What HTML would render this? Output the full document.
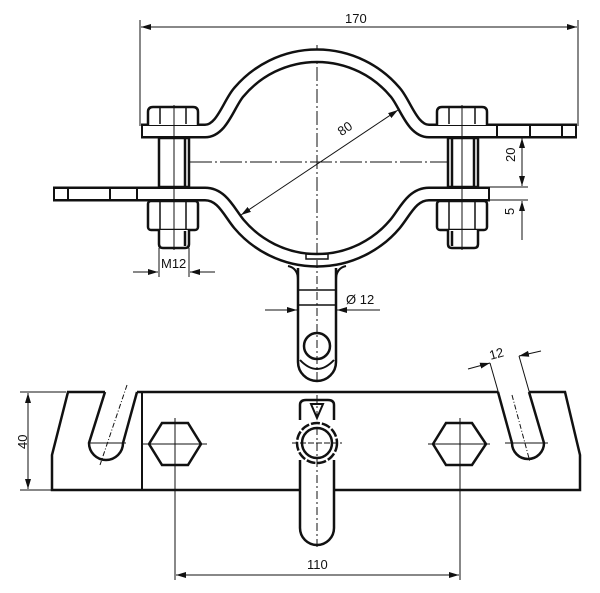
<!DOCTYPE html>
<html><head><meta charset="utf-8"><style>
html,body{margin:0;padding:0;background:#fff}
svg{display:block}
text{font-family:"Liberation Sans",Arial,sans-serif;font-size:13px;fill:#111}
</style></head><body>
<svg width="600" height="593" viewBox="0 0 600 593" xmlns="http://www.w3.org/2000/svg">
<defs>
<marker id="a" viewBox="0 0 10 6" refX="10" refY="3" markerWidth="10" markerHeight="6" orient="auto-start-reverse" markerUnits="userSpaceOnUse"><path d="M0,0 L10,3 L0,6 z" fill="#111"/></marker>
</defs>
<g fill="none" stroke="#111">
<line x1="140" y1="20" x2="140" y2="126" stroke-width="1"/>
<line x1="578" y1="20" x2="578" y2="126" stroke-width="1"/>
<line x1="141" y1="27" x2="577" y2="27" stroke-width="1" marker-start="url(#a)" marker-end="url(#a)"/>

<line x1="317" y1="45" x2="317" y2="380" stroke-width="1" stroke-dasharray="14,3,2,3"/>
<line x1="190" y1="162" x2="450" y2="162" stroke-width="1" stroke-dasharray="22,3,2,3"/>

<path d="M141,131 L205,131 C222,131 229,103 239,92 A102,102 0 0 1 395,92 C405,103 412,131 429,131 L577,131" stroke-width="15"/>
<path d="M143,131 L205,131 C222,131 229,103 239,92 A102,102 0 0 1 395,92 C405,103 412,131 429,131 L575,131" stroke="#fff" stroke-width="10"/>
<path d="M53,194 L205,194 C222,194 229,212 239,224 A102,102 0 0 0 395,224 C405,212 412,194 429,194 L490,194" stroke-width="15"/>
<path d="M55,194 L205,194 C222,194 229,212 239,224 A102,102 0 0 0 395,224 C405,212 412,194 429,194 L488,194" stroke="#fff" stroke-width="10"/>
<g stroke-width="2">
<line x1="68" y1="188" x2="68" y2="200"/><line x1="110" y1="188" x2="110" y2="200"/><line x1="137" y1="188" x2="137" y2="200"/>
<line x1="497" y1="125" x2="497" y2="137"/><line x1="530" y1="125" x2="530" y2="137"/><line x1="562" y1="125" x2="562" y2="137"/>
</g>

<path d="M298,268 L298,362 A19,19 0 0 0 336,362 L336,268" stroke-width="2.5" fill="#fff"/>
<path d="M288,266 Q298,268 298,280 M346,266 Q336,268 336,280" stroke-width="2"/>
<line x1="298" y1="290" x2="336" y2="290" stroke-width="1.5"/>
<line x1="298" y1="305" x2="336" y2="305" stroke-width="1.5"/>
<circle cx="317" cy="346" r="13" stroke-width="2.5"/>
<path d="M300,360 Q317,378 334,360" stroke-width="2"/>
<rect x="306" y="254" width="22" height="5" stroke-width="1.5"/>
<line x1="317" y1="260" x2="317" y2="380" stroke-width="1" stroke-dasharray="8,3,2,3"/>

<g stroke-width="2.5" fill="#fff">
<path d="M148,125 L148,112 Q148,107 153,107 L193,107 Q198,107 198,112 L198,125"/>
<rect x="159" y="138" width="30" height="49"/>
<rect x="148" y="201" width="50" height="29" rx="3"/>
<path d="M159,230 L159,244 Q159,248 163,248 L185,248 Q189,248 189,244 L189,230"/>
</g>
<g stroke-width="1.5">
<line x1="160" y1="108" x2="160" y2="124"/><line x1="186" y1="108" x2="186" y2="124"/>
<line x1="160" y1="202" x2="160" y2="229"/><line x1="186" y1="202" x2="186" y2="229"/>
<line x1="185" y1="139" x2="185" y2="186" stroke-width="2.5"/>
<line x1="185" y1="231" x2="185" y2="246" stroke-width="2.5"/>
<line x1="174" y1="105" x2="174" y2="250" stroke-width="1"/>
</g>
<g stroke-width="2.5" fill="#fff">
<path d="M437,125 L437,112 Q437,107 442,107 L482,107 Q487,107 487,112 L487,125"/>
<rect x="448" y="138" width="30" height="49"/>
<rect x="437" y="201" width="50" height="29" rx="3"/>
<path d="M448,230 L448,244 Q448,248 452,248 L474,248 Q478,248 478,244 L478,230"/>
</g>
<g stroke-width="1.5">
<line x1="449" y1="108" x2="449" y2="124"/><line x1="475" y1="108" x2="475" y2="124"/>
<line x1="449" y1="202" x2="449" y2="229"/><line x1="475" y1="202" x2="475" y2="229"/>
<line x1="452" y1="139" x2="452" y2="186" stroke-width="2.5"/>
<line x1="474" y1="139" x2="474" y2="186" stroke-width="2.5"/>
<line x1="452" y1="231" x2="452" y2="246" stroke-width="2.5"/>
<line x1="462" y1="105" x2="462" y2="250" stroke-width="1"/>
</g>

<line x1="241" y1="215" x2="398" y2="110" stroke-width="1" marker-start="url(#a)" marker-end="url(#a)"/>
<line x1="490" y1="187" x2="528" y2="187" stroke-width="1"/>
<line x1="490" y1="200" x2="528" y2="200" stroke-width="1"/>
<line x1="522" y1="138" x2="522" y2="186" stroke-width="1" marker-start="url(#a)" marker-end="url(#a)"/>
<line x1="522" y1="240" x2="522" y2="201" stroke-width="1" marker-end="url(#a)"/>
<line x1="159" y1="248" x2="159" y2="277" stroke-width="1"/>
<line x1="189" y1="248" x2="189" y2="277" stroke-width="1"/>
<line x1="133" y1="272" x2="158" y2="272" stroke-width="1" marker-end="url(#a)"/>
<line x1="215" y1="272" x2="190" y2="272" stroke-width="1" marker-end="url(#a)"/>
<line x1="265" y1="310" x2="297" y2="310" stroke-width="1" marker-end="url(#a)"/>
<line x1="380" y1="310" x2="337" y2="310" stroke-width="1" marker-end="url(#a)"/>

<path d="M105,392 L68,392 L52,455 L52,490 L580,490 L580,455 L565,392 L529,392" stroke-width="2.5" fill="#fff"/>
<line x1="137" y1="392" x2="498" y2="392" stroke-width="2.5"/>
<line x1="142" y1="392" x2="142" y2="490" stroke-width="2"/>
<path d="M105,392 L89,443 A17,17 0 0 0 123,443 L137,392" stroke-width="2.5"/>
<line x1="88" y1="443" x2="126" y2="443" stroke-width="1"/>
<line x1="127" y1="385" x2="100" y2="465" stroke-width="1" stroke-dasharray="5,2,1,2"/>
<path d="M498,392 L512,443 A16,16 0 0 0 544,443 L529,392" stroke-width="2.5"/>
<line x1="505" y1="443" x2="548" y2="443" stroke-width="1"/>
<line x1="512" y1="395" x2="530" y2="462" stroke-width="1" stroke-dasharray="5,2,1,2"/>
<polygon points="149,444 162,423 188,423 201,444 188,465 162,465" stroke-width="2.5" fill="#fff"/>
<line x1="143" y1="444" x2="207" y2="444" stroke-width="1"/><line x1="175" y1="418" x2="175" y2="470" stroke-width="1"/>
<polygon points="433,444 446,423 472,423 486,444 472,465 446,465" stroke-width="2.5" fill="#fff"/>
<line x1="428" y1="444" x2="490" y2="444" stroke-width="1"/><line x1="460" y1="418" x2="460" y2="470" stroke-width="1"/>
<path d="M300,420 L300,405 Q300,400 306,400 L328,400 Q334,400 334,405 L334,420" stroke-width="2.5" fill="#fff"/>
<path d="M311,404 L323,404 L317,418 Z" stroke-width="2"/>
<path d="M300,460 L300,528 A17,17 0 0 0 334,528 L334,460" stroke-width="2.5" fill="#fff"/>
<circle cx="317" cy="443" r="20" stroke-width="2.5" stroke-dasharray="9,2" fill="#fff"/>
<circle cx="317" cy="443" r="15" stroke-width="2.5"/>
<line x1="292" y1="443" x2="342" y2="443" stroke-width="1" stroke-dasharray="6,2"/>
<line x1="317" y1="395" x2="317" y2="550" stroke-width="1" stroke-dasharray="8,3,2,3"/>
<line x1="20" y1="392" x2="66" y2="392" stroke-width="1"/>
<line x1="20" y1="490" x2="52" y2="490" stroke-width="1"/>
<line x1="28" y1="393" x2="28" y2="489" stroke-width="1" marker-start="url(#a)" marker-end="url(#a)"/>
<line x1="175" y1="466" x2="175" y2="580" stroke-width="1"/>
<line x1="460" y1="466" x2="460" y2="580" stroke-width="1"/>
<line x1="176" y1="575" x2="459" y2="575" stroke-width="1" marker-start="url(#a)" marker-end="url(#a)"/>
<line x1="490" y1="363" x2="502" y2="405" stroke-width="1"/>
<line x1="519" y1="356" x2="533" y2="405" stroke-width="1"/>
<line x1="468" y1="369" x2="490" y2="363" stroke-width="1" marker-end="url(#a)"/>
<line x1="541" y1="351" x2="519" y2="356" stroke-width="1" marker-end="url(#a)"/>
</g>
<text x="345" y="23">170</text>
<text x="337" y="134" transform="rotate(-35 343 128)">80</text>
<text x="509" y="168" transform="rotate(-90 509 162)">20</text>
<text x="510" y="219" transform="rotate(-90 510 215)">5</text>
<text x="161" y="268">M12</text>
<text x="346" y="304">Ø 12</text>
<text x="14" y="446" transform="rotate(-90 22 441)">40</text>
<text x="307" y="569">110</text>
<text x="489" y="358" transform="rotate(-15 497 353)">12</text>
</svg>
</body></html>
